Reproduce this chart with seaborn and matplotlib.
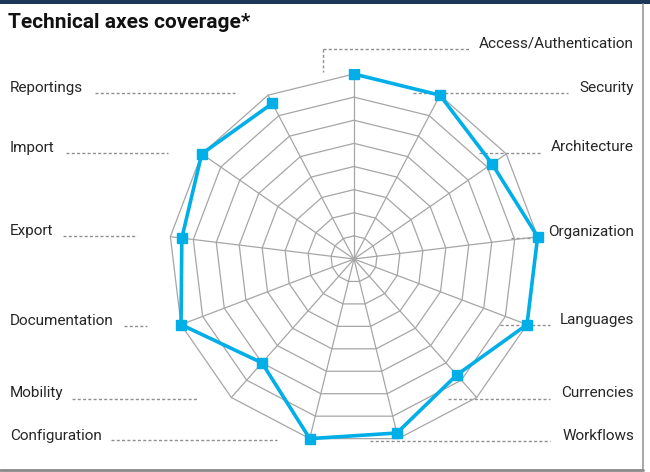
import numpy as np
import matplotlib
matplotlib.use("Agg")
import matplotlib.pyplot as plt
import seaborn as sns
import pandas as pd

# data
axis_names = ["Access/Authentication", "Security", "Architecture", "Organization",
              "Languages", "Currencies", "Workflows", "Configuration", "Mobility",
              "Documentation", "Export", "Import", "Reportings"]
coverage = [8, 8, 7.25, 8, 8, 6.7, 7.75, 8, 6, 8, 7.5, 8, 7.6]
levels = [1, 2, 3, 4, 5, 6, 7, 8]

# label layout in pixels: side, text y, leader x0, leader x1, leader y
label_layout = {
    "Access/Authentication": ("right", 43, 323, 470, 49),
    "Security": ("right", 88, 413, 568, 93),
    "Architecture": ("right", 147, 479, 542, 153),
    "Organization": ("right", 232, 511, 538, 238),
    "Languages": ("right", 320, 500, 550, 325),
    "Currencies": ("right", 393, 448, 550, 399),
    "Workflows": ("right", 436, 370, 550, 441),
    "Configuration": ("left", 436, 111, 277, 440),
    "Mobility": ("left", 393, 72, 198, 399),
    "Documentation": ("left", 321, 124, 147, 326),
    "Export": ("left", 231, 63, 137, 236),
    "Import": ("left", 148, 66, 168, 153),
    "Reportings": ("left", 88, 95, 235, 93),
}

sns.set_theme(style="white")
plt.rcParams["font.family"] = ["Roboto", "DejaVu Sans"]

W, H = 650, 472
fig = plt.figure(figsize=(W / 100, H / 100), dpi=100)

# background layer in pixel coords
bg = fig.add_axes([0, 0, 1, 1])
bg.set_xlim(0, W)
bg.set_ylim(H, 0)
bg.axis("off")
bg.add_patch(plt.Rectangle((0, 0), W, 3.5, color="#1d3557", lw=0))
bg.plot([643, 643], [3.5, 470], color="#9a9a9a", lw=1.2)
bg.plot([0, 643], [470, 470], color="#8a8a8a", lw=2)

bg.text(8, 22, "Technical axes coverage*", fontsize=15, fontweight="bold",
        color="#111111", va="center", ha="left")

lead_kw = dict(color="#8f8f8f", lw=1, ls=(0, (2.2, 1.6)))
for name in axis_names:
    side, ty, x0, x1, ly = label_layout[name]
    if side == "right":
        bg.text(634, ty, name, fontsize=11, color="#262626", ha="right", va="center")
    else:
        bg.text(10, ty, name, fontsize=11, color="#262626", ha="left", va="center")
    bg.plot([x0, x1], [ly, ly], **lead_kw)
    if name == "Access/Authentication":
        bg.plot([x0, x0], [ly, 72], **lead_kw)

# radar axes: center (354, 259) px, outer radius 185 px
cx, cy, R, pad = 354, 259, 185, 190
lim = pad / R * max(levels)
ax = fig.add_axes([(cx - pad) / W, (H - cy - pad) / H, 2 * pad / W, 2 * pad / H])
ax.set_xlim(-lim, lim)
ax.set_ylim(-lim, lim)
ax.set_aspect("equal")
ax.axis("off")

n = len(axis_names)
theta = np.arange(n) * 2 * np.pi / n
ux, uy = np.sin(theta), np.cos(theta)

grid_kw = dict(color="#a6a6a6", lw=0.9, zorder=1)
for lv in levels:
    ax.plot(np.append(ux, ux[0]) * lv, np.append(uy, uy[0]) * lv, **grid_kw)
for i in range(n):
    ax.plot([0, ux[i] * max(levels)], [0, uy[i] * max(levels)], **grid_kw)

vals = np.array(coverage)
df = pd.DataFrame({"x": np.append(ux * vals, ux[0] * vals[0]),
                   "y": np.append(uy * vals, uy[0] * vals[0])})
sns.lineplot(data=df, x="x", y="y", sort=False, ax=ax, color="#00aee8", lw=2.6,
             zorder=3)
ax.plot(ux * vals, uy * vals, ls="none", marker="s", ms=7, color="#00aee8", zorder=4)
ax.set_xlabel("")
ax.set_ylabel("")

fig.savefig("out.png", dpi=100)
